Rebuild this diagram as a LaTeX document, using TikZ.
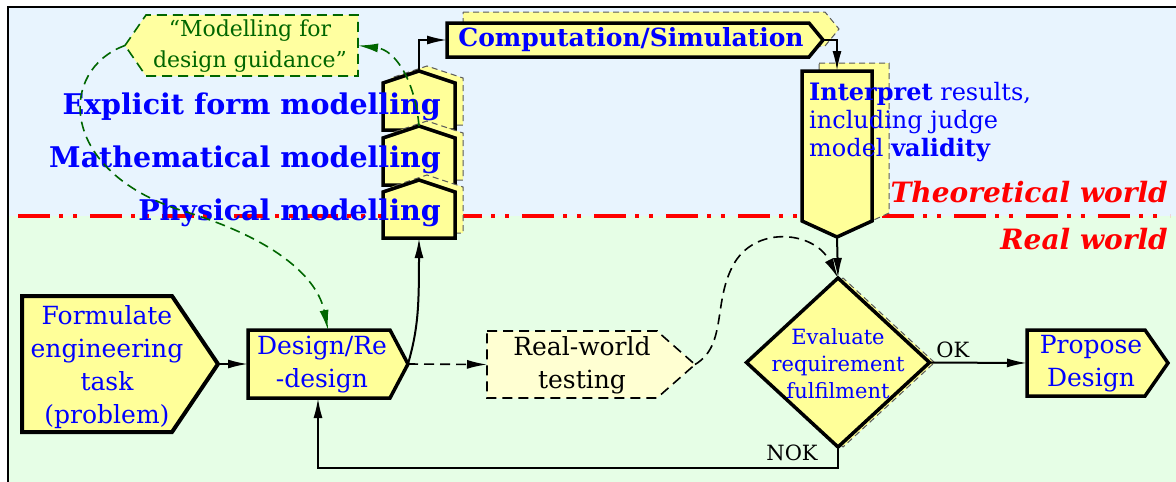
\documentclass[tikz,border=0pt]{standalone}
\usepackage{fontspec}
\setmainfont{DejaVu Serif}
\usetikzlibrary{positioning}
\usetikzlibrary{arrows.meta}
\usetikzlibrary{shapes.geometric}
\usetikzlibrary{shadows}
\usetikzlibrary{backgrounds}
\definecolor{figCielo}{RGB}{232,244,254}
\definecolor{figMenta}{RGB}{230,254,230}
\definecolor{figAmarillo}{RGB}{255,255,153}
\definecolor{figCrema}{RGB}{255,255,210}
\definecolor{figNota}{RGB}{255,255,160}
\definecolor{figVerdeOsc}{RGB}{0,102,0}
\definecolor{figAzulTxt}{RGB}{0,0,255}
\definecolor{figRojo}{RGB}{255,0,0}
\definecolor{figSombra}{RGB}{90,90,90}
\tikzset{
  marco/.style={rectangle, draw=none, inner sep=0pt, outer sep=0pt},
  bloque/.style={draw=black, line width=3.5pt, fill=figAmarillo},
  sombra/.style={draw=figSombra, line width=1pt, dash pattern=on 6pt off 4pt,
    fill=figAmarillo, transform canvas={xshift=8pt, yshift=5pt}},
  txtazul/.style={text=figAzulTxt, align=center, inner sep=0pt,
    font=\fontsize{25}{33}\selectfont},
  rombo/.style={
    diamond, draw=black, line width=3.5pt, fill=figAmarillo, inner sep=0pt, outer sep=0pt,
    minimum width=183pt, minimum height=169pt,
    copy shadow={shadow xshift=5pt, shadow yshift=0pt, fill=figAmarillo,
      draw=figSombra, dash pattern=on 6pt off 4pt, line width=1pt}
  },
  etiqmodelo/.style={
    anchor=east, text=figAzulTxt, inner sep=0pt, font=\bfseries\fontsize{28.5}{32}\selectfont
  },
  mundo/.style={
    anchor=base east, inner sep=0pt, text=figRojo,
    font=\bfseries\itshape\fontsize{28}{32}\selectfont
  },
  rotulo/.style={font=\fontsize{21}{24}\selectfont},
  guion/.style={dash pattern=on 10pt off 6pt},
  flecha/.style={-{Latex[length=20pt, width=9pt]}, line width=2pt, draw=black},
  flechad/.style={flecha, guion, line width=1.6pt},
  flechav/.style={-{Latex[length=20pt, width=9pt]}, line width=1.6pt,
    draw=figVerdeOsc, guion}
}
\begin{document}
\begin{tikzpicture}[x=1pt, y=-1pt]
  \useasboundingbox (0,0) rectangle (1176,482);

  % marcos de los bloques (contorno dibujado en el fondo)
  \node[marco, minimum width=196pt, minimum height=136pt] (formular) at (120,364) {};
  \node[marco, minimum width=160pt, minimum height=68pt] (disenio) at (328,364) {};
  \node[marco, minimum width=208pt, minimum height=67pt] (prueba) at (591,364.5) {};
  \node[marco, minimum width=141pt, minimum height=66pt] (proponer) at (1097.5,363) {};
  \node[marco, minimum width=72pt, minimum height=58pt] (fisico) at (419,209) {};
  \node[marco, minimum width=72pt, minimum height=59pt] (matematico) at (419,155.5) {};
  \node[marco, minimum width=72pt, minimum height=59pt] (explicito) at (419,100.5) {};
  \node[marco, minimum width=376pt, minimum height=34pt] (comp) at (635,40) {};
  \node[marco, minimum width=70pt, minimum height=166pt] (interp) at (837,154) {};
  \node[marco, minimum width=233pt, minimum height=61pt] (nota) at (241.5,45.5) {};

  \begin{scope}[on background layer]
    % mundo teórico / mundo real
    \fill[figCielo] (8,7) rectangle (1176,216);
    \fill[figMenta] (8,216) rectangle (1176,482);
    \draw[line width=2pt] (8,482) -- (8,7) -- (1176,7);
    \draw[figRojo, line width=4pt, dash pattern=on 32pt off 9pt on 4pt off 10pt on 4pt off 13pt]
      (18,216) -- (1170,216);

    % bloques
    \draw[bloque, line width=4pt] (formular.north west) -- ([xshift=-46pt]formular.north east)
      -- (formular.east) -- ([xshift=-46pt]formular.south east) -- (formular.south west) -- cycle;
    \draw[bloque] (disenio.north west) -- ([xshift=-18pt]disenio.north east)
      -- (disenio.east) -- ([xshift=-18pt]disenio.south east) -- (disenio.south west) -- cycle;
    \draw[bloque, fill=figCrema, line width=1.6pt, guion] (prueba.north west)
      -- ([xshift=-38pt]prueba.north east) -- (prueba.east)
      -- ([xshift=-38pt]prueba.south east) -- (prueba.south west) -- cycle;
    \draw[bloque] (proponer.north west) -- ([xshift=-23pt]proponer.north east)
      -- (proponer.east) -- ([xshift=-23pt]proponer.south east) -- (proponer.south west) -- cycle;
    \foreach \m in {explicito, matematico, fisico} {
      \draw[sombra] (\m.south west) -- ([yshift=-12pt]\m.north west) -- (\m.north)
        -- ([yshift=-12pt]\m.north east) -- (\m.south east) -- cycle;
      \draw[bloque] (\m.south west) -- ([yshift=-12pt]\m.north west) -- (\m.north)
        -- ([yshift=-12pt]\m.north east) -- (\m.south east) -- cycle;
    }
    \draw[sombra, transform canvas={xshift=8pt, yshift=6pt}] (comp.north west)
      -- ([xshift=-14pt]comp.north east) -- (comp.east)
      -- ([xshift=-14pt]comp.south east) -- (comp.south west) -- cycle;
    \draw[bloque] (comp.north west) -- ([xshift=-14pt]comp.north east) -- (comp.east)
      -- ([xshift=-14pt]comp.south east) -- (comp.south west) -- cycle;
    \draw[sombra, transform canvas={xshift=9pt, yshift=3pt}] (interp.north west)
      -- (interp.north east) -- ([yshift=16pt]interp.south east) -- (interp.south)
      -- ([yshift=16pt]interp.south west) -- cycle;
    \draw[bloque] (interp.north west) -- (interp.north east)
      -- ([yshift=16pt]interp.south east) -- (interp.south)
      -- ([yshift=16pt]interp.south west) -- cycle;
    \draw[draw=figVerdeOsc, fill=figNota, line width=1.6pt, guion] (nota.west)
      -- ([xshift=21pt]nota.north west) -- (nota.north east) -- (nota.south east)
      -- ([xshift=21pt]nota.south west) -- cycle;
  \end{scope}

  % textos
  \node[mundo] (teorico) at (1168,202) {Theoretical world};
  \node[mundo] (real) at (1168,249) {Real world};
  \node[txtazul] (formulartxt) at (107,367) {Formulate\\engineering\\task\\(problem)};
  \node[txtazul] (diseniotxt) at (322,365) {Design/Re\\-design};
  \node[txtazul, text=black] (pruebatxt) at (582,365) {Real-world\\testing};
  \node[txtazul] (proponertxt) at (1091,364) {Propose\\Design};
  \node[txtazul, font=\bfseries\fontsize{25}{30}\selectfont] (comptxt) at (631,40)
    {Computation/Simulation};
  \node[anchor=north west, align=left, inner sep=0pt, text=figAzulTxt,
    font=\fontsize{24}{28}\selectfont]
    (interptxt) at (809,82) {\textbf{Interpret} results,\\including judge\\model \textbf{validity}};
  \node[etiqmodelo] (etqexp) at (441,107) {Explicit form modelling};
  \node[etiqmodelo] (etqmat) at (441,160) {Mathematical modelling};
  \node[etiqmodelo] (etqfis) at (441,213) {Physical modelling};
  \node[txtazul, text=figVerdeOsc, font=\fontsize{22}{31}\selectfont] (notatxt) at (250,46)
    {“Modelling for\\design guidance”};
  \node[rombo] (evaluar) at (838,362.5) {};
  \node[txtazul, font=\fontsize{21}{27}\selectfont] (evaluartxt) at (838,364)
    {Evaluate\\requirement\\fulfilment};

  % conexiones
  \draw[flecha] (formular.east) -- (disenio.west);
  \draw[flecha] (disenio.east) .. controls +(10,-35) and +(0,70) .. (fisico.south);
  \draw[flechad] (disenio.east) -- (prueba.west);
  \draw[flecha] (explicito.north) |- (comp.west);
  \draw[flecha] (comp.east) -| (interp.north);
  \draw[flecha] (interp.south) -- (evaluar.north);
  \draw[flechad] (prueba.east) .. controls (728,345) and (712,300) .. (735,262)
    .. controls (758,225) and (815,232) .. (evaluar.north);
  \draw[flecha] (evaluar.east) -- node[rotulo, above, pos=0.24] (ok) {OK} (proponer.west);
  \draw[flecha] (evaluar.south) -- node[rotulo, left=16pt, pos=0.3] (nok) {NOK} ++(0,21)
    -| ([xshift=-10pt]disenio.south);
  \draw[flechav] (nota.west) .. controls (58,70) and (58,170) .. (180,210)
    .. controls (280,240) and (318,280) .. (disenio.north);
  \draw[flechav] (matematico.north) .. controls (415,80) and (395,50) .. (nota.east);
\end{tikzpicture}
\end{document}
